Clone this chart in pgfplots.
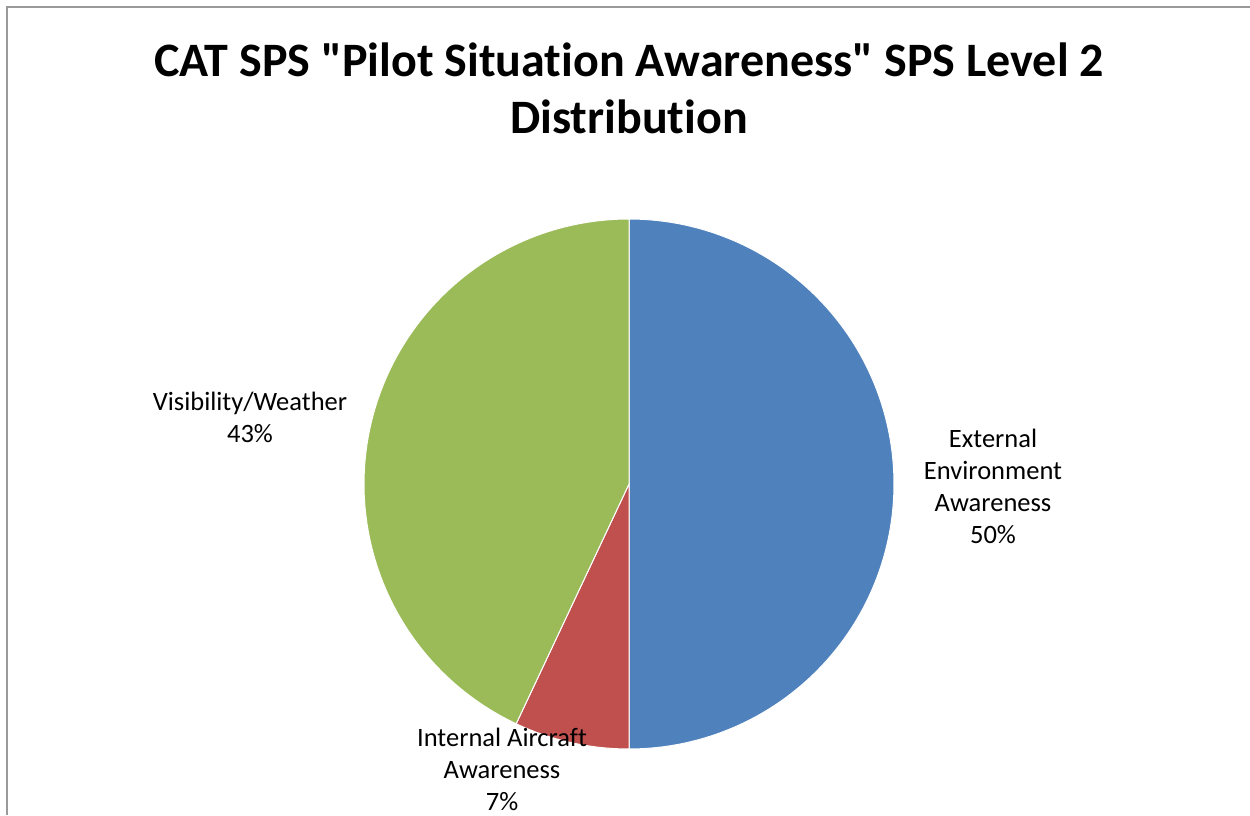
\documentclass[border=0pt]{standalone}
\usepackage{pgfplots}
\usepackage{pgfplotstable}
\usepackage{fontspec}
\setmainfont{Carlito}[Ligatures={TeXOff,CommonOff}]
\pgfplotsset{compat=1.18}
\definecolor{cblue}{HTML}{4F81BD}
\definecolor{cred}{HTML}{C0504D}
\definecolor{cgreen}{HTML}{9BBB59}
\definecolor{cframe}{HTML}{9A9A9A}
\pgfplotstableread{
label value
ext 50
int 7
vis 43
}\piedata
\pgfplotstablegetelem{0}{value}\of\piedata \let\va\pgfplotsretval
\pgfplotstablegetelem{1}{value}\of\piedata \let\vb\pgfplotsretval
\pgfplotstablegetelem{2}{value}\of\piedata \let\vc\pgfplotsretval
\pgfmathsetmacro{\tot}{\va+\vb+\vc}
\pgfmathsetmacro{\aA}{360*(\va/\tot)}
\pgfmathsetmacro{\aB}{\aA+360*(\vb/\tot)}
\begin{document}
\begin{tikzpicture}
\begin{axis}[
  x=1pt, y=1pt, xmin=0, xmax=1250, ymin=0, ymax=815,
  hide axis, scale only axis, clip=false,
]
% frame
\addplot[cframe, line width=2pt, mark=none] coordinates {(7,0) (7,808) (1250,808)};
% slices (angle measured clockwise from 12 o'clock)
\addplot[fill=cblue, draw=white, line width=1pt, domain=0:\aA, samples=120, variable=\t]
  ({629+265*sin(\t)},{331+265*cos(\t)}) -- (axis cs:629,331) -- cycle;
\addplot[fill=cred, draw=white, line width=1pt, domain=\aA:\aB, samples=30, variable=\t]
  ({629+265*sin(\t)},{331+265*cos(\t)}) -- (axis cs:629,331) -- cycle;
\addplot[fill=cgreen, draw=white, line width=1pt, domain=\aB:360, samples=120, variable=\t]
  ({629+265*sin(\t)},{331+265*cos(\t)}) -- (axis cs:629,331) -- cycle;
% title
\node[align=center, font=\fontsize{48}{57}\selectfont\bfseries] at (axis cs:629,726.5)
  {CAT SPS "Pilot Situation Awareness" SPS Level 2\\Distribution};
% labels
\node[align=center, font=\fontsize{26.5}{32}\selectfont] at (axis cs:993,329)
  {External\\Environment\\Awareness\\50\%};
\node[align=center, font=\fontsize{26.5}{32}\selectfont] at (axis cs:250,398)
  {Visibility/Weather\\43\%};
\node[align=center, font=\fontsize{26.5}{32}\selectfont] at (axis cs:502,46)
  {Internal Aircraft\\Awareness\\7\%};
\end{axis}
\pgfresetboundingbox
\path (0,0) rectangle (1250pt,815pt);
\end{tikzpicture}
\end{document}
